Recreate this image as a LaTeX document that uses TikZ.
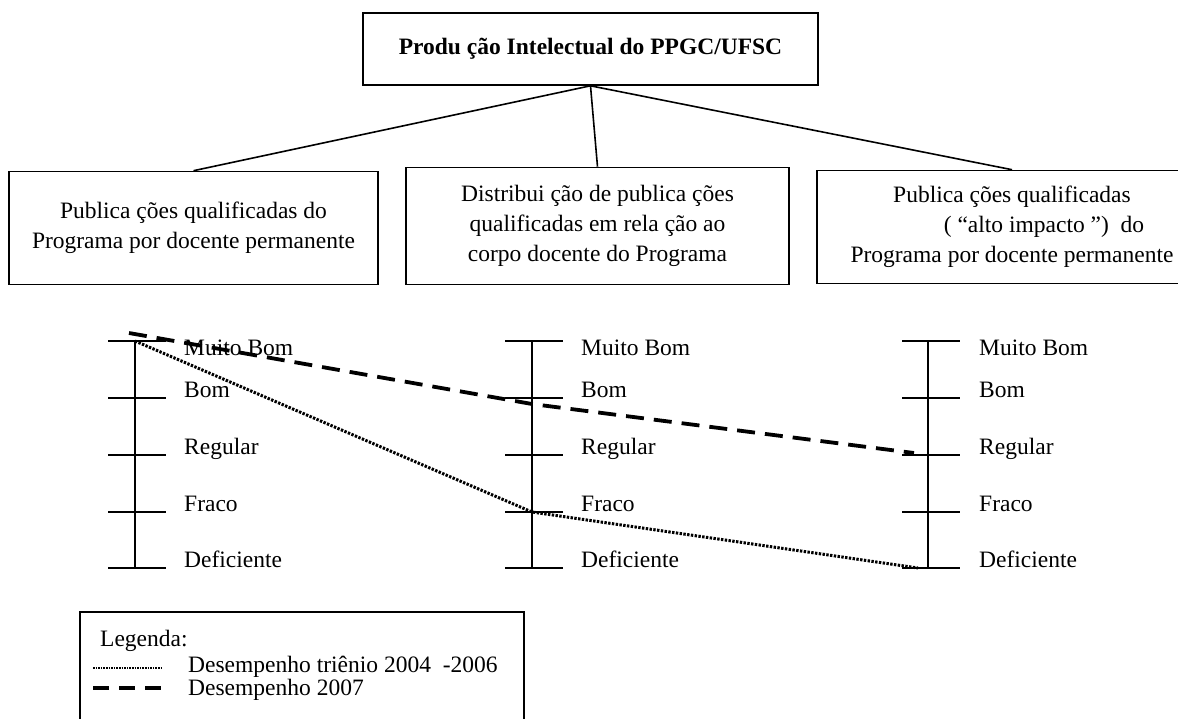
\documentclass[tikz,border=0pt]{standalone}
\usepackage{fontspec}
\setmainfont{Liberation Serif}
\usepackage{tikz}

\tikzset{
  caixa/.style={draw, line width=1.6pt, inner sep=0pt, align=center},
  rotulo/.style={anchor=base west, inner sep=0pt},
  ligacao/.style={line width=1.6pt},
  escala/.style={line width=1.6pt},
  trienio/.style={line width=3pt, dash pattern=on 2.4pt off 1.4pt},
  ano2007/.style={line width=3.8pt, dash pattern=on 18pt off 10pt}
}

\begin{document}
\begin{tikzpicture}[x=1pt,y=-1pt,font=\fontsize{23.5}{30}\selectfont]
		\clip (0,0) rectangle (1178,718);
		\node[caixa, minimum width=455pt, minimum height=72pt] (prod) at (590.5,49) {\textbf{Produ ção Intelectual do PPGC/UFSC}};
		\node[caixa, minimum width=369pt, minimum height=113pt] (pub) at (193.5,228) {Publica ções qualificadas do\\Programa por docente permanente};
		\node[caixa, minimum width=383pt, minimum height=117pt] (dist) at (597.5,226) {Distribui ção de publica ções\\qualificadas em rela ção ao\\corpo docente do Programa};
		\node[caixa, minimum width=390pt, minimum height=113pt] (alto) at (1012,227) {Publica ções qualificadas\\\hspace*{64pt}( “alto impacto ”)\ \ do\\Programa por docente permanente};
		\draw[ligacao] (prod.south) -- (pub.north);
		\draw[ligacao] (prod.south) -- (dist.north);
		\draw[ligacao] (prod.south) -- (alto.north);
		% escala 1
		\draw[escala] (135,341) -- (135,568);
		\draw[escala] (108,341) -- (166,341);
		\draw[escala] (108,398) -- (166,398);
		\draw[escala] (108,455) -- (166,455);
		\draw[escala] (108,512) -- (166,512);
		\draw[escala] (108,568) -- (166,568);
		\node[rotulo] (mb1) at (184,355) {Muito Bom};
		\node[rotulo] (bo1) at (184,397) {Bom};
		\node[rotulo] (re1) at (184,454) {Regular};
		\node[rotulo] (fr1) at (184,511) {Fraco};
		\node[rotulo] (de1) at (184,567) {Deficiente};
		% escala 2
		\draw[escala] (532,341) -- (532,568);
		\draw[escala] (505,341) -- (563,341);
		\draw[escala] (505,398) -- (563,398);
		\draw[escala] (505,455) -- (563,455);
		\draw[escala] (505,512) -- (563,512);
		\draw[escala] (505,568) -- (563,568);
		\node[rotulo] (mb2) at (581,355) {Muito Bom};
		\node[rotulo] (bo2) at (581,397) {Bom};
		\node[rotulo] (re2) at (581,454) {Regular};
		\node[rotulo] (fr2) at (581,511) {Fraco};
		\node[rotulo] (de2) at (581,567) {Deficiente};
		% escala 3
		\draw[escala] (928,341) -- (928,568);
		\draw[escala] (902,341) -- (960,341);
		\draw[escala] (902,398) -- (960,398);
		\draw[escala] (902,455) -- (960,455);
		\draw[escala] (902,512) -- (960,512);
		\draw[escala] (902,568) -- (960,568);
		\node[rotulo] (mb3) at (979,355) {Muito Bom};
		\node[rotulo] (bo3) at (979,397) {Bom};
		\node[rotulo] (re3) at (979,454) {Regular};
		\node[rotulo] (fr3) at (979,511) {Fraco};
		\node[rotulo] (de3) at (979,567) {Deficiente};
		% desempenho
		\coordinate (t1) at (135,341);
		\coordinate (t2) at (532,512);
		\coordinate (t3) at (918,568);
		\coordinate (a1) at (129,333);
		\coordinate (a2) at (532,404);
		\coordinate (a3) at (914,453);
		\draw[trienio] (t1) -- (t2) -- (t3);
		\draw[ano2007] (a1) -- (a2) -- (a3);
		% legenda
		\draw[ligacao] (80,612) rectangle (524,730);
		\node[rotulo] (leg) at (100,646) {Legenda:};
		\draw[trienio, line width=1.8pt, dash pattern=on 1.5pt off 1.1pt] (93,668) -- (163,668);
		\node[rotulo] (leg1) at (188,672) {Desempenho triênio 2004\ \ -2006};
		\draw[ano2007, dash pattern=on 16pt off 10pt] (93,688) -- (163,688);
		\node[rotulo] (leg2) at (188,695) {Desempenho 2007};
\end{tikzpicture}
\end{document}
